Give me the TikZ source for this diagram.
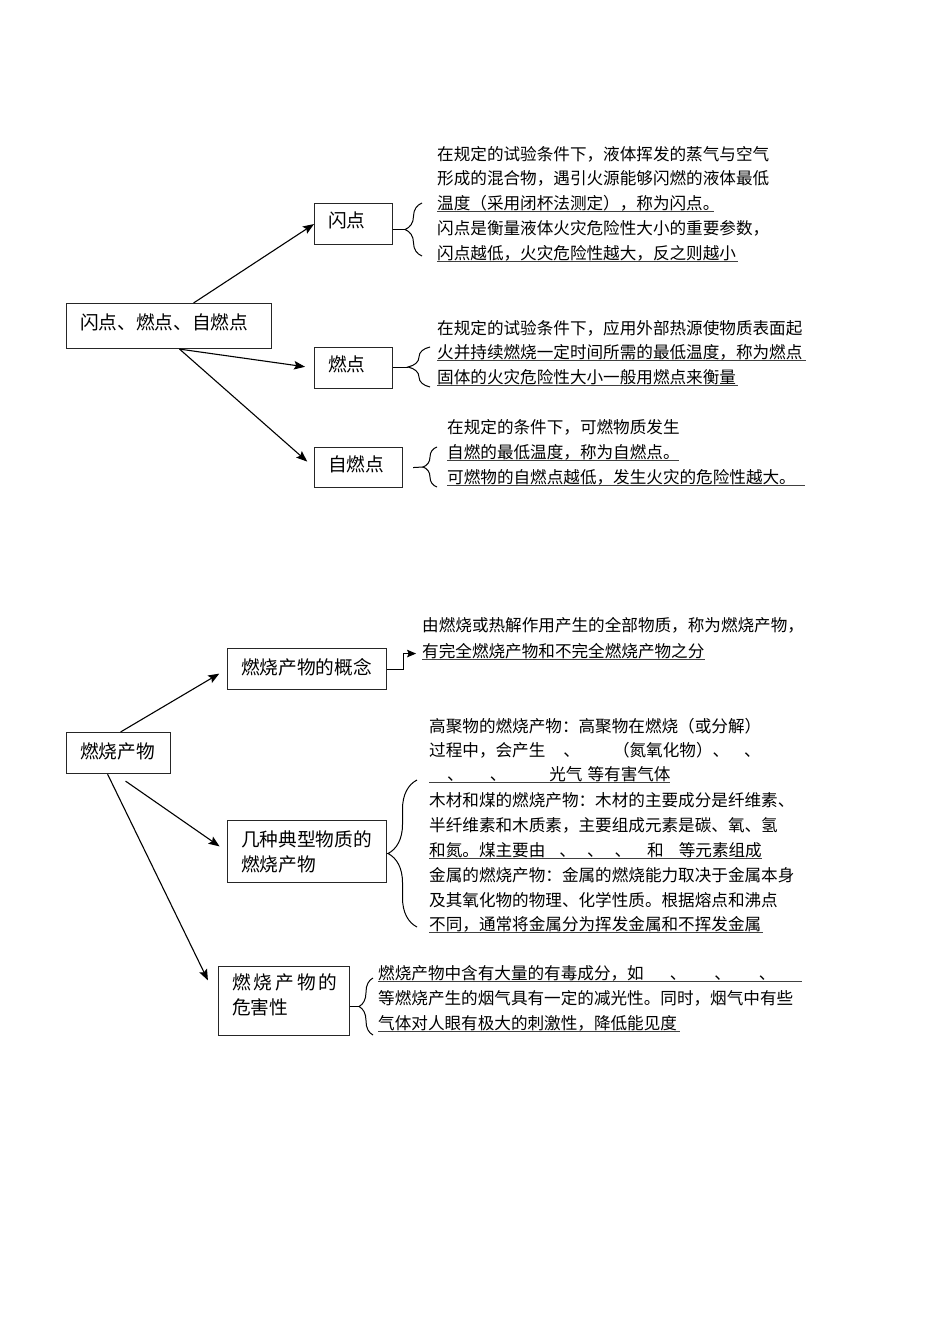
\documentclass[tikz,border=0pt]{standalone}
\usepackage{fontspec}
\setmainfont{Noto Sans CJK SC}
\usetikzlibrary{arrows.meta,decorations.pathreplacing}
\newcommand\lowstrut[1]{\rule[-#1]{0pt}{1pt}}
\tikzset{
  box/.style={draw=black!85, line width=1.1pt, inner xsep=13.5pt, inner ysep=0pt, align=left, anchor=north west, font=\fontsize{18.7}{25}\selectfont},
  txt/.style={anchor=base west, inner sep=0pt, font=\fontsize{16.6}{20}\selectfont},
  uline/.style={draw=black!75, line width=0.9pt},
  arr/.style={draw=black, line width=1.1pt, -{Stealth[length=11pt,width=8.5pt,inset=2pt]}},
  smallarr/.style={draw=black, line width=1.1pt, -{Stealth[length=9pt,width=7.5pt,inset=1.5pt]}},
  link/.style={draw=black, line width=1pt},
  brc/.style={draw=black, line width=1pt, decorate, decoration={brace, amplitude=#1}},
}
\begin{document}
\begin{tikzpicture}[x=1pt,y=-1pt]
\useasboundingbox[fill=white] (0,0) rectangle (950,1344);

% ---------- upper diagram ----------
\node[box, minimum width=205pt, minimum height=45pt, text width=178pt] (main) at (66,303) {闪点、燃点、自燃点\lowstrut{8pt}};
\node[box, minimum width=78pt, minimum height=41pt, text width=51pt] (fp) at (314,203) {闪点\lowstrut{8pt}};
\node[box, minimum width=78pt, minimum height=41pt, text width=51pt] (rp) at (314,347) {燃点\lowstrut{8pt}};
\node[box, minimum width=88pt, minimum height=40pt, text width=61pt] (zp) at (314,447) {自燃点\lowstrut{8pt}};

\draw[arr] ([xshift=24.5pt]main.north) -- (fp.west);
\draw[arr, shorten >=9pt] ([xshift=10.5pt]main.south) -- (rp.west);
\draw[arr, shorten >=9pt] ([xshift=10.5pt]main.south) -- (zp.west);

% flash point text
\node[txt] (f1) at (437,160) {在规定的试验条件下，液体挥发的蒸气与空气};
\node[txt] (f2) at (437,184.5) {形成的混合物，遇引火源能够闪燃的液体最低};
\node[txt] (f3) at (437,209) {温度（采用闭杯法测定），称为闪点。};
\node[txt] (f4) at (437,234.5) {闪点是衡量液体火灾危险性大小的重要参数，};
\node[txt] (f5) at (437,259.5) {闪点越低，火灾危险性越大，反之则越小};
\draw[uline] ([yshift=-2pt]f3.base west) -- ++(277,0);
\draw[uline] ([yshift=-2pt]f5.base west) -- ++(301,0);
\coordinate (fb) at (405,229.5);
\draw[link] (fp.east |- fb) -- (fb);
\draw[brc=17pt] (422,256) -- (422,203);

% fire point text
\node[txt] (r1) at (437,334.5) {在规定的试验条件下，应用外部热源使物质表面起};
\node[txt] (r2) at (437,358) {火并持续燃烧一定时间所需的最低温度，称为燃点};
\node[txt] (r3) at (437,383) {固体的火灾危险性大小一般用燃点来衡量};
\draw[uline] ([yshift=-2pt]r2.base west) -- ++(369,0);
\draw[uline] ([yshift=-2pt]r3.base west) -- ++(301,0);
\coordinate (rb) at (408,367);
\draw[link] (rp.east |- rb) -- (rb);
\draw[brc=22pt] (430,387) -- (430,347);

% autoignition text
\node[txt] (z1) at (447,433) {在规定的条件下，可燃物质发生};
\node[txt] (z2) at (447,458) {自燃的最低温度，称为自燃点。};
\node[txt] (z3) at (447,483) {可燃物的自燃点越低，发生火灾的危险性越大。};
\draw[uline] ([yshift=-2pt]z2.base west) -- ++(232,0);
\draw[uline] ([yshift=-2pt]z3.base west) -- ++(358,0);
\coordinate (zb) at (423,467);
\draw[link] ([xshift=10pt]zp.east) -- (zb);
\draw[brc=14pt] (437,487) -- (437,447);

% ---------- lower diagram ----------
\node[box, minimum width=104pt, minimum height=41pt, text width=77pt] (fire) at (66,732) {燃烧产物\lowstrut{4pt}};
\node[box, minimum width=159pt, minimum height=41pt, text width=132pt] (concept) at (227,648) {燃烧产物的概念\lowstrut{6pt}};
\node[box, minimum width=159pt, minimum height=62pt, text width=132pt] (typ) at (227,820) {几种典型物质的\\燃烧产物};
\node[box, minimum width=131pt, minimum height=69pt, text width=104pt] (wh) at (218,966) {\mbox{燃\hspace{3pt}烧\hspace{3pt}产\hspace{3pt}物\hspace{3pt}的}\\危害性\lowstrut{13pt}};

\draw[arr, shorten >=9pt] ([xshift=2pt]fire.north) -- (concept.west);
\draw[arr, shorten >=9pt] ([xshift=7pt,yshift=-7pt]fire.south) -- (typ.west);
\draw[arr, shorten >=23pt] ([xshift=-11pt]fire.south) -- (wh.west);

% concept text
\node[txt] (c1) at (422,631.3) {由燃烧或热解作用产生的全部物质，称为燃烧产物，};
\node[txt] (c2) at (422,657) {有完全燃烧产物和不完全燃烧产物之分};
\draw[uline] ([yshift=-2pt]c2.base west) -- ++(283,0);
\draw[smallarr] (concept.east) -- ++(16,0) -- ++(0,-15.5) -- ++(13,0);

% typical substances text
\node[txt] (t1) at (429,732.3) {高聚物的燃烧产物：高聚物在燃烧（或分解）};
\node[txt] (t2) at (429,756.3) {过程中，会产生\hspace{18pt}、\hspace{33pt}（氮氧化物）、\hspace{15pt}、};
\node[txt] (t3) at (429,780.3) {\hspace{18pt}、\hspace{26pt}、\hspace{43pt}光气\hspace{5pt}等有害气体};
\node[txt] (t4) at (429,806.3) {木材和煤的燃烧产物：木材的主要成分是纤维素、};
\node[txt] (t5) at (429,831.3) {半纤维素和木质素，主要组成元素是碳、氧、氢};
\node[txt] (t6) at (429,856.3) {和氮。煤主要由\hspace{14pt}、\hspace{11pt}、\hspace{11pt}、\hspace{16pt}和\hspace{15pt}等元素组成};
\node[txt] (t7) at (429,881.3) {金属的燃烧产物：金属的燃烧能力取决于金属本身};
\node[txt] (t8) at (429,906.3) {及其氧化物的物理、化学性质。根据熔点和沸点};
\node[txt] (t9) at (429,930.3) {不同，通常将金属分为挥发金属和不挥发金属};
\draw[uline] ([yshift=-2pt]t3.base west) -- ++(241,0);
\draw[uline] ([yshift=-2pt]t6.base west) -- ++(333,0);
\draw[uline] ([yshift=-2pt]t9.base west) -- ++(334,0);
\coordinate (tb) at (388,853.5);
\draw[link] (typ.east |- tb) -- (tb);
\draw[brc=29pt] (417,927) -- (417,780);

% hazard text
\node[txt] (h1) at (378,979.3) {燃烧产物中含有大量的有毒成分，如\hspace{26pt}、\hspace{28pt}、\hspace{28pt}、};
\node[txt] (h2) at (378,1004.3) {等燃烧产生的烟气具有一定的减光性。同时，烟气中有些};
\node[txt] (h3) at (378,1029.3) {气体对人眼有极大的刺激性，降低能见度};
\draw[uline] ([yshift=-2pt]h1.base west) -- ++(424,0);
\draw[uline] ([yshift=-2pt]h3.base west) -- ++(302,0);
\coordinate (hb) at (359,1006.5);
\draw[link] (wh.east |- hb) -- (hb);
\draw[brc=14pt] (373,1035) -- (373,978);
\end{tikzpicture}
\end{document}
